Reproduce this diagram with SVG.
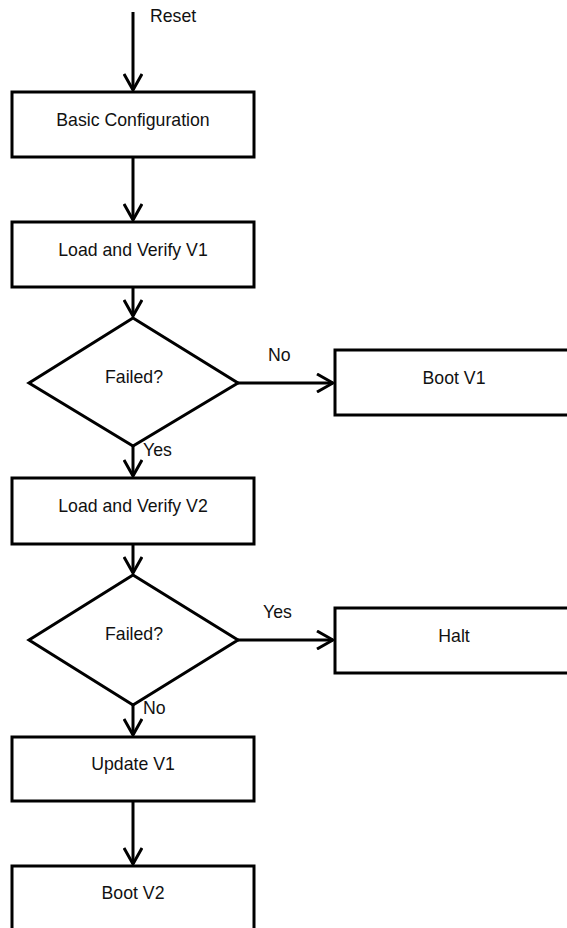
<svg xmlns="http://www.w3.org/2000/svg" width="567" height="928" viewBox="0 0 567 928">
  <style>
    .box { fill: #ffffff; stroke: #000000; stroke-width: 3; }
    .dec { fill: #ffffff; stroke: #000000; stroke-width: 3; stroke-linejoin: miter; }
    .edge { fill: none; stroke: #000000; stroke-width: 3; }
    .head { fill: none; stroke: #000000; stroke-width: 3; stroke-linejoin: miter; stroke-linecap: butt; }
    text { font-family: "Liberation Sans", Arial, sans-serif; font-size: 17.7px; fill: #111111; }
    .c { text-anchor: middle; }
  </style>
  <defs>
    <marker id="arrow" viewBox="-17 -10 19 20" refX="0" refY="0" markerWidth="19" markerHeight="20" markerUnits="userSpaceOnUse" orient="auto">
      <polyline class="head" points="-16,-9 0,0 -16,9"/>
    </marker>
  </defs>

  <!-- connectors -->
  <g id="connectors">
    <line class="edge" x1="133" y1="12" x2="133" y2="90" marker-end="url(#arrow)"/>
    <line class="edge" x1="133" y1="157" x2="133" y2="220" marker-end="url(#arrow)"/>
    <line class="edge" x1="133" y1="287" x2="133" y2="316" marker-end="url(#arrow)"/>
    <line class="edge" x1="238" y1="383" x2="333" y2="383" marker-end="url(#arrow)"/>
    <line class="edge" x1="133" y1="446" x2="133" y2="476" marker-end="url(#arrow)"/>
    <line class="edge" x1="133" y1="544" x2="133" y2="573" marker-end="url(#arrow)"/>
    <line class="edge" x1="238" y1="640" x2="333" y2="640" marker-end="url(#arrow)"/>
    <line class="edge" x1="133" y1="705" x2="133" y2="735" marker-end="url(#arrow)"/>
    <line class="edge" x1="133" y1="801" x2="133" y2="864" marker-end="url(#arrow)"/>
    <text x="150" y="22">Reset</text>
    <text x="268" y="361">No</text>
    <text x="143" y="456">Yes</text>
    <text x="263" y="618">Yes</text>
    <text x="143" y="714">No</text>
  </g>

  <!-- process steps -->
  <g id="basic-config">
    <rect class="box" x="12" y="92" width="242" height="65"/>
    <text class="c" x="133" y="126">Basic Configuration</text>
  </g>
  <g id="load-v1">
    <rect class="box" x="12" y="222" width="242" height="65"/>
    <text class="c" x="133" y="256">Load and Verify V1</text>
  </g>
  <g id="failed-v1">
    <polygon class="dec" points="133,318 238,383 133,446 29,383"/>
    <text class="c" x="134" y="383">Failed?</text>
  </g>
  <g id="boot-v1">
    <rect class="box" x="335" y="350" width="242" height="65"/>
    <text class="c" x="454" y="384">Boot V1</text>
  </g>
  <g id="load-v2">
    <rect class="box" x="12" y="478" width="242" height="66"/>
    <text class="c" x="133" y="512">Load and Verify V2</text>
  </g>
  <g id="failed-v2">
    <polygon class="dec" points="133,575 238,640 133,705 29,640"/>
    <text class="c" x="134" y="640">Failed?</text>
  </g>
  <g id="halt">
    <rect class="box" x="335" y="608" width="242" height="65"/>
    <text class="c" x="454" y="642">Halt</text>
  </g>
  <g id="update-v1">
    <rect class="box" x="12" y="737" width="242" height="64"/>
    <text class="c" x="133" y="770">Update V1</text>
  </g>
  <g id="boot-v2">
    <rect class="box" x="12" y="866" width="242" height="65"/>
    <text class="c" x="133" y="899">Boot V2</text>
  </g>
</svg>
